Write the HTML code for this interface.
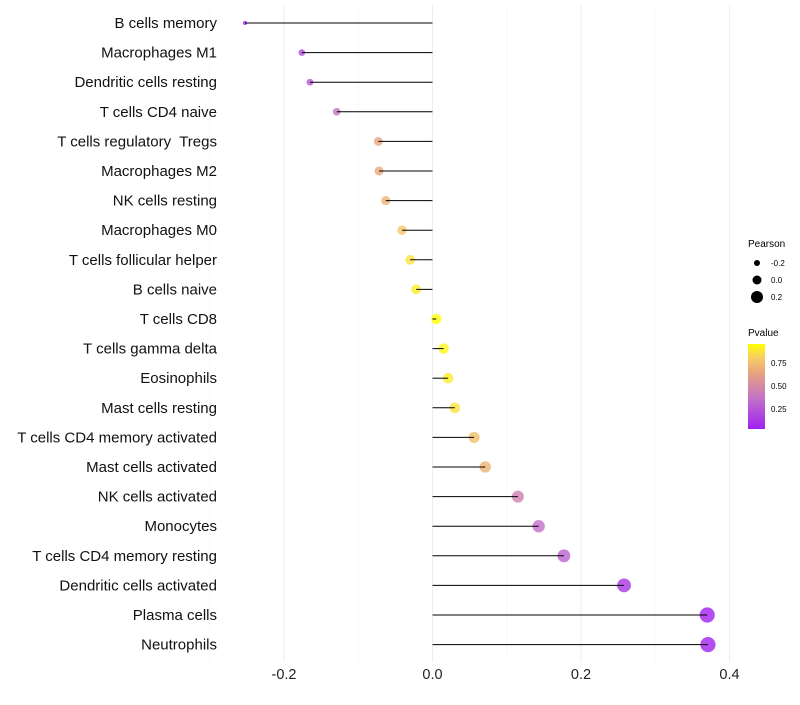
<!DOCTYPE html>
<html><head><meta charset="utf-8"><style>
body{margin:0;background:#fff;font-family:"Liberation Sans",sans-serif}
svg text{font-family:"Liberation Sans",sans-serif;white-space:pre}
</style></head><body>
<svg id="c" width="800" height="700">
<defs><linearGradient id="pg" x1="0" y1="1" x2="0" y2="0">
<stop offset="0" stop-color="#A020F0"/><stop offset="0.35" stop-color="#C070C8"/><stop offset="0.65" stop-color="#E8A080"/><stop offset="0.85" stop-color="#F8D060"/><stop offset="1" stop-color="#FFFF00"/></linearGradient></defs>
<g id="grid"></g><g id="marks"></g><g id="axes"></g>
<g>
<text x="748" y="247" font-size="10">Pearson</text>
<circle cx="757" cy="263" r="3" fill="#000"/><text x="771" y="266" font-size="8">-0.2</text>
<circle cx="757" cy="280" r="4.5" fill="#000"/><text x="771" y="283" font-size="8">0.0</text>
<circle cx="757" cy="297" r="6" fill="#000"/><text x="771" y="300" font-size="8">0.2</text>
<text x="748" y="336" font-size="10">Pvalue</text>
<rect x="748" y="344" width="17" height="85" fill="url(#pg)"/>
<text x="771" y="366" font-size="8">0.75</text><text x="771" y="389" font-size="8">0.50</text><text x="771" y="412" font-size="8">0.25</text>
</g>
</svg>
<script>
const categories=["B cells memory","Macrophages M1","Dendritic cells resting","T cells CD4 naive","T cells regulatory  Tregs","Macrophages M2","NK cells resting","Macrophages M0","T cells follicular helper","B cells naive","T cells CD8","T cells gamma delta","Eosinophils","Mast cells resting","T cells CD4 memory activated","Mast cells activated","NK cells activated","Monocytes","T cells CD4 memory resting","Dendritic cells activated","Plasma cells","Neutrophils"];
const pearson=[-0.2525,-0.176,-0.165,-0.129,-0.073,-0.072,-0.063,-0.041,-0.030,-0.022,0.005,0.015,0.021,0.030,0.056,0.071,0.115,0.143,0.177,0.258,0.370,0.371];
const pvalue=[0.05,0.2,0.25,0.4,0.65,0.65,0.7,0.78,0.87,0.9,0.98,0.93,0.9,0.87,0.75,0.7,0.45,0.35,0.3,0.12,0.04,0.04];
const xTicks=[-0.2,0.0,0.2,0.4];
const NS="http://www.w3.org/2000/svg";
const x=v=>432.5+v*742.5;
const y=i=>23+i*29.6;
const rad=v=>Math.sqrt(Math.max(1.5,26+v*85));
function col(p){const st=[[0,[160,32,240]],[0.35,[192,112,200]],[0.65,[232,160,128]],[0.85,[248,208,96]],[1,[255,255,0]]];
 let t=(p-0.03)/(0.957-0.03);t=Math.max(0,Math.min(1,t));
 for(let k=1;k<st.length;k++){if(t<=st[k][0]){const a=st[k-1],b=st[k],f=(t-a[0])/(b[0]-a[0]);return "rgb("+a[1].map((c,j)=>Math.round(c+(b[1][j]-c)*f)).join(",")+")";}}return "rgb(255,255,0)";}
function mk(tag,at,par){const e=document.createElementNS(NS,tag);for(const k in at)e.setAttribute(k,at[k]);document.getElementById(par).appendChild(e);return e;}
[-0.3,-0.1,0.1,0.3].forEach(v=>{const l=mk("line",{x1:x(v),x2:x(v),y1:5,y2:662,stroke:"#f6f6f6","stroke-width":0.6},"grid");

});
xTicks.forEach(v=>{const l=mk("line",{x1:x(v),x2:x(v),y1:5,y2:662,stroke:"#eeeeee","stroke-width":1.1},"grid");


const t=mk("text",{x:x(v),y:679,"font-size":14.5,"text-anchor":"middle",fill:"#222"},"axes");t.textContent=v.toFixed(1);

});
categories.forEach((c,i)=>{const t=mk("text",{x:217,y:y(i)+5,"font-size":15,"text-anchor":"end",fill:"#111"},"axes");t.textContent=c;


const p=mk("circle",{cx:x(pearson[i]),cy:y(i),r:rad(pearson[i]),fill:col(pvalue[i]),"fill-opacity":0.8},"marks");


const l=mk("line",{x1:x(0),x2:x(pearson[i]),y1:y(i),y2:y(i),stroke:"#000","stroke-width":1},"marks");

});
</script>
</body></html>
